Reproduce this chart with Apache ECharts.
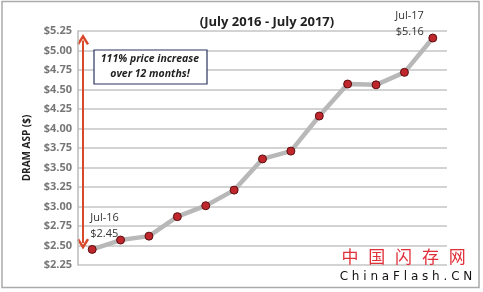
<!DOCTYPE html>
<html><head><meta charset="utf-8">
<style>html,body{margin:0;padding:0;background:#fff}#c{width:483px;height:292px}</style>
<script src="https://cdn.jsdelivr.net/npm/echarts@6/dist/echarts.min.js"></script>
</head><body><div id="c"></div>
<script>
const months = ['Jul-16','Aug-16','Sep-16','Oct-16','Nov-16','Dec-16','Jan-17','Feb-17','Mar-17','Apr-17','May-17','Jun-17','Jul-17'];
const aspValues = [2.45, 2.57, 2.62, 2.87, 3.01, 3.21, 3.61, 3.71, 4.16, 4.57, 4.56, 4.72, 5.16];
const yMin = 2.25, yMax = 5.25, yStep = 0.25;
const titleText = '(July 2016 - July 2017)';
const yAxisTitle = 'DRAM ASP ($)';
const noteLines = ['111% price increase', 'over 12 months!'];
const watermarkCn = ['中', '国', '闪', '存', '网'];
const watermarkEn = 'ChinaFlash.CN';

const chart = echarts.init(document.getElementById('c'));
const gridL = 78, gridT = 31, gridR = 36, gridB = 27;
chart.setOption({
  animation: false,
  title: {text: titleText, left: 262, top: 11, textAlign: 'center',
    textStyle: {fontFamily: 'Open Sans', fontSize: 13, fontWeight: 'bold', color: '#222'}},
  grid: {left: gridL, top: gridT, right: gridR, bottom: gridB},
  xAxis: {type: 'category', data: months, boundaryGap: true,
    axisLine: {show: false}, axisTick: {show: false}, axisLabel: {show: false}},
  yAxis: {type: 'value', min: yMin, max: yMax, interval: yStep,
    name: yAxisTitle, nameLocation: 'middle', nameGap: 46, nameRotate: 90,
    nameTextStyle: {fontFamily: 'Open Sans', fontSize: 10, fontWeight: 'bold', color: '#222'},
    axisLine: {show: true, lineStyle: {color: '#bbb', width: 1.5}},
    axisTick: {show: false},
    axisLabel: {formatter: v => '$' + v.toFixed(2), fontFamily: 'Open Sans', fontSize: 11, fontWeight: 'bold', color: '#777', margin: 6},
    splitLine: {lineStyle: {color: '#c4c4c4', width: 1.5}}},
  series: [{
    type: 'line', data: aspValues, symbol: 'circle', symbolSize: 8,
    lineStyle: {color: '#b8b8b8', width: 4.5},
    itemStyle: {color: '#c0272d', borderColor: '#5a1010', borderWidth: 1},
    label: {show: false}
  }]
});

const p0 = chart.convertToPixel({seriesIndex: 0}, [0, aspValues[0]]);
const pN = chart.convertToPixel({seriesIndex: 0}, [months.length - 1, aspValues[aspValues.length - 1]]);
const yTop = chart.convertToPixel({yAxisIndex: 0}, 5.18);
const yBot = chart.convertToPixel({yAxisIndex: 0}, 2.48);
const ax = gridL + 5;
const red = '#d9482b';
const graphics = [
  {type: 'rect', shape: {x: 2, y: 1.5, width: 477, height: 286}, style: {fill: 'none', stroke: '#aaa', lineWidth: 1.5}, silent: true},
  {type: 'line', shape: {x1: ax, y1: yTop + 4, x2: ax, y2: yBot - 4}, style: {stroke: red, lineWidth: 2}},
  {type: 'polyline', shape: {points: [[ax - 5, yTop + 8], [ax, yTop], [ax + 5, yTop + 8]]}, style: {stroke: red, lineWidth: 2.5, fill: 'none'}},
  {type: 'polyline', shape: {points: [[ax - 5, yBot - 8], [ax, yBot], [ax + 5, yBot - 8]]}, style: {stroke: red, lineWidth: 2.5, fill: 'none'}},
  {type: 'rect', shape: {x: 94, y: 50, width: 113, height: 34}, style: {fill: '#fff', stroke: '#2a3560', lineWidth: 1.2}},
  {type: 'text', x: 150, y: 67, style: {text: noteLines.join('\n'), fontFamily: 'Open Sans', fontSize: 10.5, fontWeight: 'bold', fontStyle: 'italic', fill: '#222', align: 'center', verticalAlign: 'middle', lineHeight: 15}},
  {type: 'text', x: p0[0] - 2, y: p0[1] - 8, style: {text: months[0] + '\n$' + aspValues[0].toFixed(2), fontFamily: 'Open Sans', fontSize: 11, fill: '#333', align: 'left', verticalAlign: 'bottom', lineHeight: 16}},
  {type: 'text', x: pN[0] - 9, y: pN[1] + 2, style: {text: months[months.length - 1] + '\n$' + aspValues[aspValues.length - 1].toFixed(2), fontFamily: 'Open Sans', fontSize: 11, fill: '#333', align: 'right', verticalAlign: 'bottom', lineHeight: 16}},
  {type: 'text', x: 406, y: 277, style: {text: watermarkEn.split('').join(' '), fontFamily: 'DejaVu Sans', fontSize: 12, fill: '#111', align: 'center', verticalAlign: 'middle'}}
];
watermarkCn.forEach((ch, i) => {
  graphics.push({type: 'text', x: 350 + i * 26.8, y: 257, style: {text: ch, fontFamily: 'Noto Sans CJK SC', fontSize: 17, fill: '#e0303a', align: 'center', verticalAlign: 'middle'}});
});
chart.setOption({graphic: graphics});
</script></body></html>
